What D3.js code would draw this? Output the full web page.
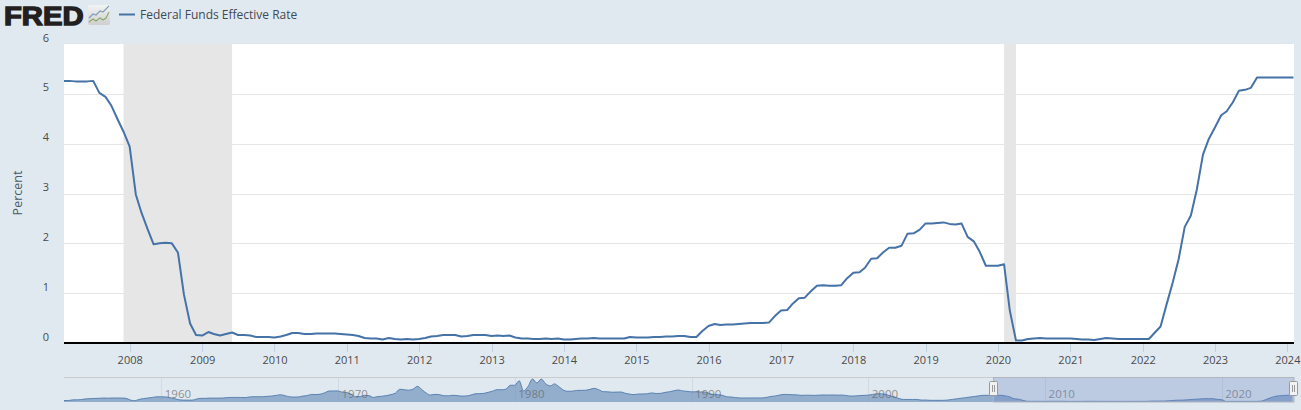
<!DOCTYPE html>
<html>
<head>
<meta charset="utf-8">
<script src="https://cdn.jsdelivr.net/npm/d3@7/dist/d3.min.js"></script>
<style>
html,body{margin:0;padding:0;background:#e1e9f0;overflow:hidden}
svg{display:block}
text{font-family:"Open Sans",sans-serif}
</style>
</head>
<body>
<svg id="c" width="1301" height="410"></svg>
<script>
const seriesName = "Federal Funds Effective Rate";
const yAxisTitle = "Percent";
const startMonth = "2007-02-01";
const rates = [
5.26,5.26,5.25,5.25,5.25,5.26,5.02,4.94,4.76,4.49,4.24,
3.94,2.98,2.61,2.28,1.98,2.00,2.01,2.00,1.81,0.97,0.39,0.16,
0.15,0.22,0.18,0.15,0.18,0.21,0.16,0.16,0.15,0.12,0.12,0.12,
0.11,0.13,0.16,0.20,0.20,0.18,0.18,0.19,0.19,0.19,0.19,0.18,
0.17,0.16,0.14,0.10,0.09,0.09,0.07,0.10,0.08,0.07,0.08,0.07,
0.08,0.10,0.13,0.14,0.16,0.16,0.16,0.13,0.14,0.16,0.16,0.16,
0.14,0.15,0.14,0.15,0.11,0.09,0.09,0.08,0.08,0.09,0.08,0.09,
0.07,0.07,0.08,0.09,0.09,0.10,0.09,0.09,0.09,0.09,0.09,0.12,
0.11,0.11,0.11,0.12,0.12,0.13,0.13,0.14,0.14,0.12,0.12,0.24,
0.34,0.38,0.36,0.37,0.37,0.38,0.39,0.40,0.40,0.40,0.41,0.54,
0.65,0.66,0.79,0.90,0.91,1.04,1.15,1.16,1.15,1.15,1.16,1.30,
1.41,1.42,1.51,1.69,1.70,1.82,1.91,1.91,1.95,2.19,2.20,2.27,
2.40,2.40,2.41,2.42,2.39,2.38,2.40,2.13,2.04,1.83,1.55,1.55,
1.55,1.58,0.65,0.05,0.05,0.08,0.09,0.10,0.09,0.09,0.09,0.09,
0.09,0.08,0.07,0.07,0.06,0.08,0.10,0.09,0.08,0.08,0.08,0.08,
0.08,0.08,0.20,0.33,0.77,1.21,1.68,2.33,2.56,3.08,3.78,4.10,
4.33,4.57,4.65,4.83,5.06,5.08,5.12,5.33,5.33,5.33,5.33,5.33,
5.33,5.33];
const recessionStarts = ["2007-12-01","2020-02-01"];
const recessionEnds = ["2009-06-01","2020-04-01"];
const yTicks = [0,1,2,3,4,5,6];
const xTickYears = [2008,2009,2010,2011,2012,2013,2014,2015,2016,2017,2018,2019,2020,2021,2022,2023,2024];
const navTickYears = [1960,1970,1980,1990,2000,2010,2020];
const navStart = "1954-07-01";
const navEnd = "2024-02-01";
const navQuarterly = [
0.80,0.85,
1.39,1.43,1.68,2.24, 2.45,2.62,2.75,2.96, 2.84,3.00,2.99,2.96, 2.72,1.26,0.68,1.80,
2.48,2.96,3.47,3.98, 3.99,3.92,3.23,2.47, 1.45,1.17,1.17,1.17, 2.15,2.70,2.70,2.90,
2.90,2.90,3.00,3.30, 3.48,3.50,3.42,3.36, 3.90,4.06,4.07,4.08, 4.42,4.65,5.17,5.76,
4.94,3.99,3.79,3.88, 4.60,5.00,6.03,5.92, 6.30,7.41,8.90,9.00, 8.98,7.88,7.53,6.20,
4.14,4.15,5.30,5.00, 3.50,4.17,4.50,5.00, 5.90,7.12,10.40,10.00, 9.65,10.50,12.90,10.00,
7.10,5.50,6.10,5.80, 4.87,4.82,5.31,5.00, 4.60,4.73,5.42,6.50, 6.70,6.90,7.80,8.80,
10.07,10.01,10.47,13.77, 13.82,17.60,9.03,12.80, 19.08,15.70,19.04,15.10, 13.22,14.94,12.59,9.70,
8.68,8.80,9.37,9.48, 9.56,10.30,11.20,10.00, 8.35,8.27,7.88,8.00, 8.10,7.00,6.30,5.85,
6.40,6.40,6.60,7.30, 6.80,6.90,7.75,8.30, 9.12,9.80,9.00,8.60, 8.20,8.25,8.15,8.10,
6.90,5.90,5.80,5.20, 4.00,3.80,3.30,3.00, 3.00,3.00,3.06,3.00, 3.05,3.56,4.26,4.76,
5.53,6.05,5.85,5.76, 5.56,5.22,5.40,5.24, 5.25,5.45,5.56,5.50, 5.56,5.45,5.50,5.07,
4.63,4.74,5.00,5.20, 5.45,6.02,6.54,6.50, 5.98,4.80,3.77,2.49, 1.73,1.75,1.73,1.75,
1.24,1.26,1.01,1.00, 1.00,1.00,1.26,1.76, 2.28,2.79,3.26,3.78, 4.29,4.79,5.24,5.25,
5.25,5.25,5.26,4.76, 3.94,2.28,2.01,0.97, 0.15,0.15,0.16,0.12, 0.11,0.20,0.18,0.19,
0.17,0.10,0.07,0.07, 0.08,0.14,0.16,0.16, 0.14,0.15,0.09,0.09, 0.07,0.09,0.09,0.09,
0.11,0.12,0.13,0.12, 0.34,0.37,0.39,0.40, 0.65,0.90,1.15,1.15, 1.41,1.69,1.91,2.19,
2.40,2.42,2.40,1.83, 1.55,0.05,0.09,0.09, 0.09,0.07,0.10,0.08, 0.08,0.33,1.68,3.08,
4.33,4.83,5.12,5.33, 5.33];

const lineColor = "#4572a7";
const svg = d3.select("#c");
const utc = s => new Date(s + "T00:00:00Z");
const plot = {l:64, r:1294, t:44, b:343};

const monthDates = rates.map((_, i) => d3.utcMonth.offset(utc(startMonth), i));
const x = d3.scaleUtc().domain([utc(startMonth), monthDates[monthDates.length-1]]).range([plot.l-0.5, plot.r-0.5]);
const y = d3.scaleLinear().domain([0,6]).range([plot.b, plot.t]);

const defs = svg.append("defs");
defs.append("clipPath").attr("id","plotClip").append("rect")
  .attr("x",plot.l).attr("y",plot.t).attr("width",plot.r-plot.l).attr("height",plot.b-plot.t);

// plot background
svg.append("rect").attr("x",plot.l).attr("y",plot.t).attr("width",plot.r-plot.l).attr("height",plot.b-plot.t).attr("fill","#fff");

// recessions
svg.append("g").selectAll("rect").data(recessionStarts).join("rect")
  .attr("x",d=>x(utc(d))).attr("y",plot.t)
  .attr("width",(d,i)=>x(utc(recessionEnds[i]))-x(utc(d)))
  .attr("height",plot.b-plot.t).attr("fill","#e6e6e6");

// y axis with grid
const yAxis = d3.axisLeft(y).tickValues(yTicks).tickFormat(d3.format("d")).tickSize(0).tickPadding(0);
const gy = svg.append("g").attr("transform",`translate(${plot.l},0)`).call(yAxis);
gy.select(".domain").remove();
gy.selectAll(".tick line").attr("x1",0).attr("x2",plot.r-plot.l).attr("stroke","#e6e6e6").attr("stroke-width",1)
  .attr("shape-rendering","crispEdges");
gy.selectAll(".tick").filter(d=>d===6||d===0).select("line").remove();
gy.selectAll(".tick text").attr("x",-15).attr("dy","0").attr("fill","#4a4a4a").attr("font-size",11)
  .attr("text-anchor","end").attr("y",-3);

// line
svg.append("path").datum(rates)
  .attr("fill","none").attr("stroke",lineColor).attr("stroke-width",2).attr("stroke-linejoin","round")
  .attr("clip-path","url(#plotClip)")
  .attr("d",d3.line().x((d,i)=>x(monthDates[i])).y(d=>y(d)));

// x axis
const xAxis = d3.axisBottom(x).tickValues(xTickYears.map(v=>new Date(Date.UTC(v,0,1))))
  .tickFormat(d3.utcFormat("%Y")).tickSize(9).tickPadding(6);
const gx = svg.append("g").attr("transform",`translate(0,${plot.b})`).call(xAxis);
gx.select(".domain").remove();
gx.selectAll(".tick line").attr("stroke","#c0d0e0").attr("y1",1).attr("shape-rendering","crispEdges");
gx.selectAll(".tick text").attr("fill","#4a4a4a").attr("font-size",11).attr("y",13);

// baseline
svg.append("line").attr("x1",plot.l).attr("x2",plot.r).attr("y1",plot.b).attr("y2",plot.b)
  .attr("stroke","#000").attr("stroke-width",2);

// y title
svg.append("text").attr("transform","translate(22,193) rotate(-90)").attr("text-anchor","middle")
  .attr("font-size",12.5).attr("fill","#4a5a66").text(yAxisTitle);

// navigator
const nav = {t:377, b:402};
const navDates = navQuarterly.map((_, i) => d3.utcMonth.offset(utc(navStart), i*3));
const nx = d3.scaleUtc().domain([utc(navStart), utc(navEnd)]).range([plot.l, plot.r]);
const ny = d3.scaleLinear().domain([0,19.1]).range([nav.b-0.5, nav.t+2]);

const gn = svg.append("g");
gn.append("path").datum(navQuarterly)
  .attr("fill",lineColor).attr("fill-opacity",0.5).attr("stroke","none")
  .attr("d",d3.area().curve(d3.curveMonotoneX).x((d,i)=>nx(navDates[i])).y0(nav.b).y1(d=>ny(d)));
gn.append("path").datum(navQuarterly)
  .attr("fill","none").attr("stroke",lineColor).attr("stroke-opacity",0.8).attr("stroke-width",1)
  .attr("d",d3.line().curve(d3.curveMonotoneX).x((d,i)=>nx(navDates[i])).y(d=>ny(d)));

const navTicks = gn.append("g").attr("transform",`translate(0,${nav.t})`)
  .call(d3.axisBottom(nx).tickValues(navTickYears.map(v=>new Date(Date.UTC(v,0,1))))
    .tickFormat(d3.utcFormat("%Y")).tickSize(nav.b-nav.t).tickPadding(0));
navTicks.select(".domain").remove();
navTicks.selectAll(".tick line").attr("stroke","#8a98a8").attr("stroke-opacity",0.18).attr("shape-rendering","crispEdges");
navTicks.selectAll(".tick text").attr("text-anchor","start").attr("x",3).attr("y",21).attr("dy",0)
  .attr("fill","#666").attr("fill-opacity",0.7).attr("font-size",11.5);

const selL = nx(utc(startMonth)), selR = nx(utc(navEnd));
gn.append("rect").attr("x",selL).attr("y",nav.t).attr("width",selR-selL).attr("height",nav.b-nav.t)
  .attr("fill","rgb(102,133,194)").attr("fill-opacity",0.3);
// outline
gn.append("line").attr("x1",plot.l).attr("x2",selL).attr("y1",nav.t+0.5).attr("y2",nav.t+0.5).attr("stroke","#cccccc");
gn.append("rect").attr("x",selL).attr("y",nav.t+0.5).attr("width",selR-selL).attr("height",nav.b-nav.t-0.5)
  .attr("fill","none").attr("stroke","#b2b5bc");

// handles
[selL,selR].forEach(px=>{
  const h = gn.append("g").attr("transform",`translate(${Math.round(px)-4.5},381.5)`);
  h.append("rect").attr("width",8).attr("height",14).attr("rx",1).attr("fill","#f2f2f2").attr("stroke","#999");
  h.selectAll("line").data([3,5]).join("line").attr("x1",d=>d).attr("x2",d=>d).attr("y1",3.5).attr("y2",10.5).attr("stroke","#999");
});

// legend
svg.append("line").attr("x1",119).attr("x2",135).attr("y1",14.5).attr("y2",14.5).attr("stroke",lineColor).attr("stroke-width",2);
svg.append("text").attr("x",140).attr("y",19).attr("font-size",12).attr("fill","#3f4a52").text(seriesName);

// logo
svg.append("text").attr("transform","translate(4,24.5) scale(1.17,1)")
  .style("font-family",'"Liberation Sans",Arial,sans-serif').attr("font-weight",700)
  .attr("font-size",25).attr("fill","#231f20").attr("stroke","#231f20").attr("stroke-width",1.3)
  .text("FRED");
const lg = defs.append("linearGradient").attr("id","ic").attr("x1",0).attr("x2",0).attr("y1",0).attr("y2",1);
lg.append("stop").attr("offset","0").attr("stop-color","#f2f3f3");
lg.append("stop").attr("offset","1").attr("stop-color","#cfcfcf");
svg.append("rect").attr("x",88).attr("y",5).attr("width",22).attr("height",20).attr("rx",2).attr("fill","url(#ic)");
svg.append("path").attr("d","M89 18L93 14L96 15L100 11L103 12L109 6").attr("fill","none").attr("stroke","#7f9db8").attr("stroke-width",1.1);
svg.append("path").attr("d","M89 22L93 19L96 21L100 18L103 20L106 18L109 12").attr("fill","none").attr("stroke","#8aa86a").attr("stroke-width",1.1);
</script>
</body>
</html>
